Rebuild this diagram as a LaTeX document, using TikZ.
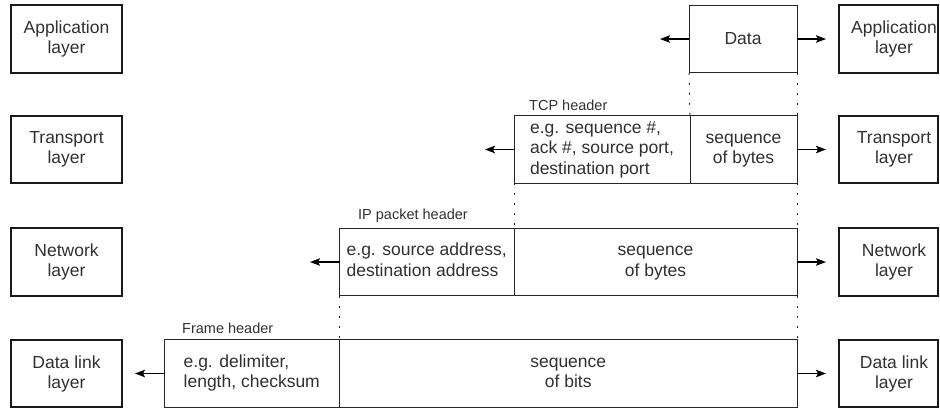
\documentclass[tikz,border=0pt]{standalone}
\usepackage{fontspec}
\setmainfont{Liberation Sans}
\usetikzlibrary{arrows.meta}
\definecolor{ink}{HTML}{303030}
\begin{document}
\begin{tikzpicture}[x=1pt,y=-1pt,
  layerbox/.style={draw=black!90, line width=2.4pt, minimum height=67.5pt, inner sep=0pt, outer sep=0pt},
  boxtext/.style={font=\fontsize{17.5}{20}\selectfont, align=center, text=ink, inner sep=0pt},
  seg/.style={draw=black!85, line width=1pt, minimum height=67.5pt, inner sep=0pt, outer sep=0pt, font=\fontsize{17.5}{20.5}\selectfont, text=ink},
  hdr/.style={font=\fontsize{14.5}{17}\selectfont, text=ink, anchor=base west, inner sep=0pt},
  dots/.style={draw=black!85, line width=1pt, dash pattern=on 2pt off 8pt},
  arr/.style={draw=black, line width=1.2pt, -{Stealth[length=10pt,width=7.5pt,inset=2pt]}},
]
\useasboundingbox (0,0) rectangle (940,408);

% left layer boxes
\node[layerbox, boxtext, minimum width=111pt] (la) at (66.5,39) {Application\\layer};
\node[layerbox, boxtext, minimum width=111pt] (lt) at (66.5,149.5) {Transport\\layer};
\node[layerbox, boxtext, minimum width=111pt] (ln) at (66.5,262) {Network\\layer};
\node[layerbox, boxtext, minimum width=111pt] (ld) at (66.5,373.5) {Data link\\layer};

% right layer boxes
\node[layerbox, minimum width=99pt] (ra) at (888.5,39) {};
\node[boxtext] (rat) at (894,39) {Application\\layer};
\node[layerbox, minimum width=99pt] (rt) at (888.5,149.5) {};
\node[boxtext] (rtt) at (894,149.5) {Transport\\layer};
\node[layerbox, minimum width=99pt] (rn) at (888.5,262) {};
\node[boxtext] (rnt) at (894,262) {Network\\layer};
\node[layerbox, minimum width=99pt] (rd) at (888.5,373.5) {};
\node[boxtext] (rdt) at (894,373.5) {Data link\\layer};

% data segments
\node[seg, minimum width=108pt] (data) at (743,39) {Data};

\node[seg, minimum width=176pt] (tcph) at (602,149.5) {\begin{tabular}{@{}l@{}}e.g. sequence \#,\\ack \#, source port,\\destination port\end{tabular}};
\node[seg, minimum width=107pt] (tcpd) at (743.5,149.5) {\begin{tabular}{@{}c@{}}sequence\\of bytes\end{tabular}};

\node[seg, minimum width=174.5pt] (iph) at (426.75,262) {\begin{tabular}{@{}l@{}}e.g. source address,\\destination address\end{tabular}};
\node[seg, minimum width=283pt] (ipd) at (655.5,262) {\begin{tabular}{@{}c@{}}sequence\\of bytes\end{tabular}};

\node[seg, minimum width=175.5pt] (frh) at (251.75,373.5) {\begin{tabular}{@{}l@{}}e.g. delimiter,\\length, checksum\end{tabular}};
\node[seg, minimum width=457.5pt] (frd) at (568.25,373.5) {\begin{tabular}{@{}c@{}}sequence\\of bits\end{tabular}};

% header labels
\node[hdr] (tcpl) at (529,110) {TCP header};
\node[hdr] (ipl) at (358,219) {IP packet header};
\node[hdr] (frl) at (182,333) {Frame header};

% dotted guides
\draw[dots] (data.south west) -- (tcpd.north west);
\draw[dots] (data.south east) -- (tcpd.north east);
\draw[dots] (tcph.south west) -- (ipd.north west);
\draw[dots] (tcpd.south east) -- (ipd.north east);
\draw[dots] (iph.south west) -- (frd.north west);
\draw[dots] (ipd.south east) -- (frd.north east);

% arrow end points
\coordinate (a1l) at (660,39);
\coordinate (a1r) at (826,39);
\coordinate (a2l) at (485,149.5);
\coordinate (a2r) at (826,149.5);
\coordinate (a3l) at (310,262);
\coordinate (a3r) at (826,262);
\coordinate (a4l) at (135,373.5);
\coordinate (a4r) at (826,373.5);

\draw[arr] (data.west) -- (a1l);
\draw[arr] (data.east) -- (a1r);
\draw[arr] (tcph.west) -- (a2l);
\draw[arr] (tcpd.east) -- (a2r);
\draw[arr] (iph.west) -- (a3l);
\draw[arr] (ipd.east) -- (a3r);
\draw[arr] (frh.west) -- (a4l);
\draw[arr] (frd.east) -- (a4r);
\end{tikzpicture}
\end{document}
